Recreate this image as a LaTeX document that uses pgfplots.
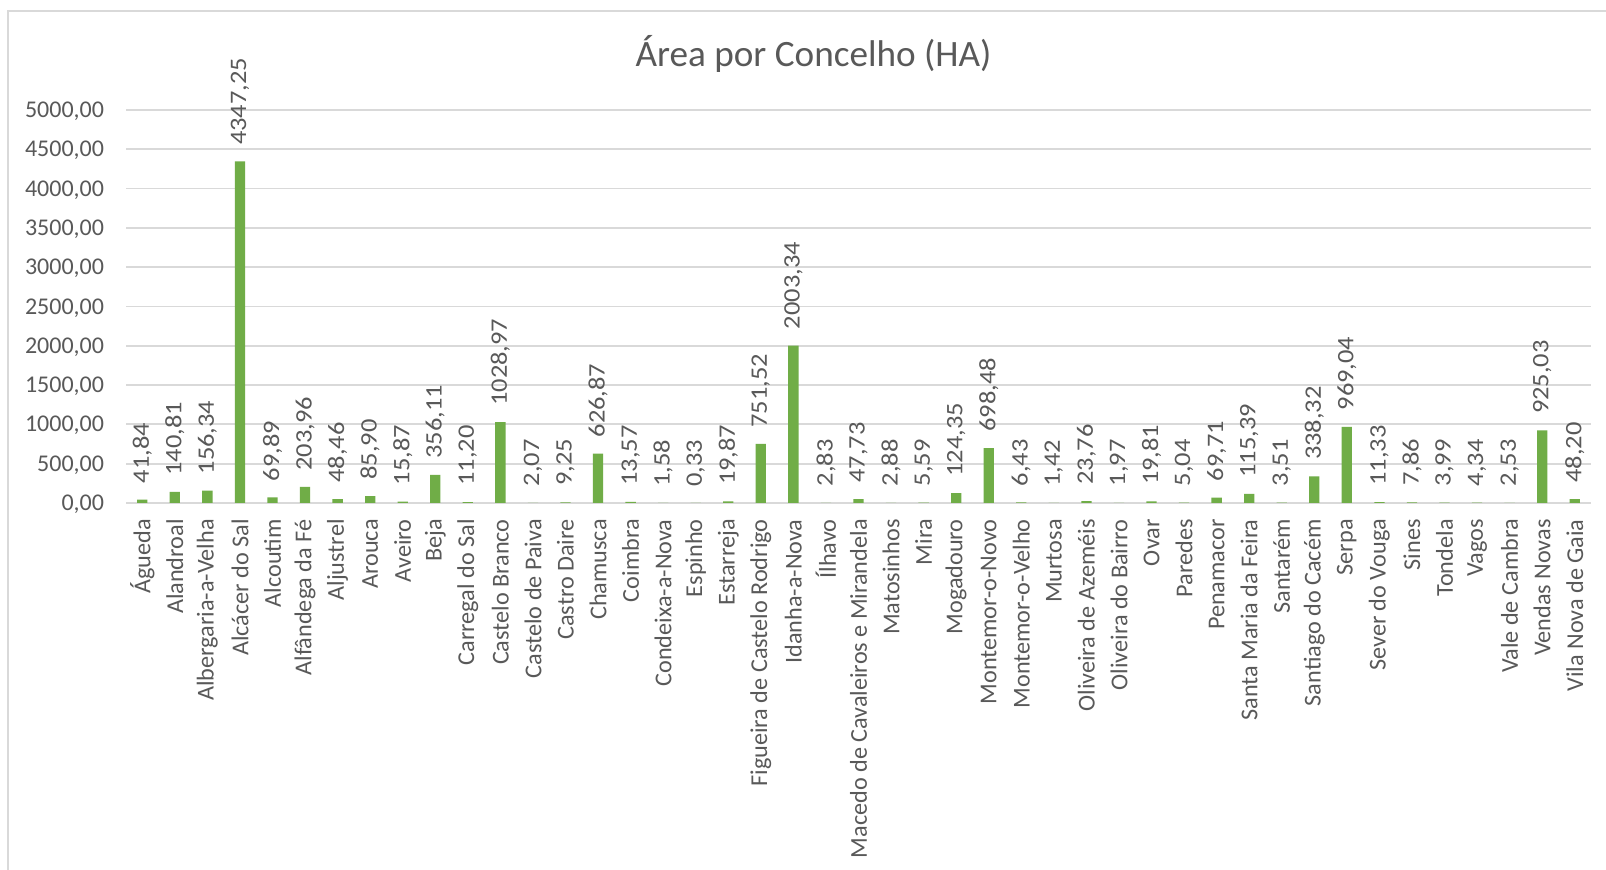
\documentclass[border=0pt]{standalone}
\usepackage{fontspec}
\setmainfont{Carlito}
\usepackage{pgfplots}
\pgfplotsset{compat=1.18}
\definecolor{bargreen}{HTML}{70AD47}
\definecolor{gridgray}{HTML}{D9D9D9}
\definecolor{txtgray}{HTML}{595959}
\begin{document}
\begin{tikzpicture}
\path[use as bounding box] (0,0) rectangle (803pt,435pt);
\fill[white] (0,0) rectangle (803pt,435pt);
\draw[gridgray, line width=1pt, line cap=butt] (4.2pt,0) -- (4.2pt,429.4pt) -- (803pt,429.4pt);
\node[anchor=base, text=txtgray, font=\fontsize{18.6}{22}\selectfont, inner sep=0pt] at (406.75pt,401.6pt) {Área por Concelho (HA)};
\begin{axis}[
  at={(63pt,183.5pt)}, anchor=south west,
  scale only axis, width=732.5pt, height=196.5pt,
  ybar, bar width=5.15pt,
  xmin=-0.5, xmax=44.5, ymin=0, ymax=5000,
  ytick={0,500,...,5000},
  xtick={0,...,44},
  xticklabels={Águeda, Alandroal, Albergaria-a-Velha, Alcácer do Sal, Alcoutim, Alfândega da Fé, Aljustrel, Arouca, Aveiro, Beja, Carregal do Sal, Castelo Branco, Castelo de Paiva, Castro Daire, Chamusca, Coimbra, Condeixa-a-Nova, Espinho, Estarreja, Figueira de Castelo Rodrigo, Idanha-a-Nova, Ílhavo, Macedo de Cavaleiros e Mirandela, Matosinhos, Mira, Mogadouro, Montemor-o-Novo, Montemor-o-Velho, Murtosa, Oliveira de Azeméis, Oliveira do Bairro, Ovar, Paredes, Penamacor, Santa Maria da Feira, Santarém, Santiago do Cacém, Serpa, Sever do Vouga, Sines, Tondela, Vagos, Vale de Cambra, Vendas Novas, Vila Nova de Gaia},
  major tick length=0pt,
  axis line style={draw=none},
  ymajorgrids, grid style={gridgray, line width=0.9pt},
  /pgf/number format/.cd, fixed, fixed zerofill, precision=2, use comma, 1000 sep={}, assume math mode=true,
  /pgfplots/.cd,
  yticklabel style={font=\fontsize{12}{14}\selectfont, text=txtgray, inner sep=0pt, anchor=base east, xshift=-10.8pt, yshift=-3.8pt},
  xticklabel style={font=\fontsize{12.1}{14}\selectfont, text=txtgray, inner sep=0pt, yshift=-8pt, rotate=90, anchor=east},
  nodes near coords,
  nodes near coords style={font=\fontsize{11.8}{14}\selectfont, text=txtgray, inner sep=0pt, yshift=8pt, rotate=90, xscale=1.12, anchor=west},
  clip=false,
]
\addplot[fill=bargreen, draw=none] coordinates {
(0,41.84) (1,140.81) (2,156.34) (3,4347.25) (4,69.89) (5,203.96) (6,48.46) (7,85.90) (8,15.87) (9,356.11)
(10,11.20) (11,1028.97) (12,2.07) (13,9.25) (14,626.87) (15,13.57) (16,1.58) (17,0.33) (18,19.87) (19,751.52)
(20,2003.34) (21,2.83) (22,47.73) (23,2.88) (24,5.59) (25,124.35) (26,698.48) (27,6.43) (28,1.42) (29,23.76)
(30,1.97) (31,19.81) (32,5.04) (33,69.71) (34,115.39) (35,3.51) (36,338.32) (37,969.04) (38,11.33) (39,7.86)
(40,3.99) (41,4.34) (42,2.53) (43,925.03) (44,48.20)
};
\end{axis}
\end{tikzpicture}
\end{document}
